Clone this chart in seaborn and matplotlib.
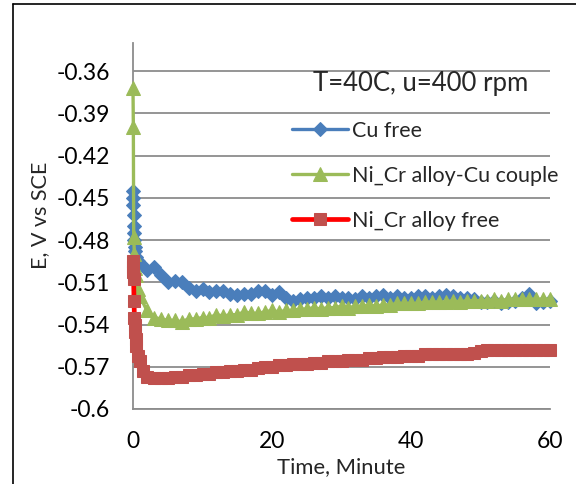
import numpy as np
import pandas as pd
import matplotlib
matplotlib.use("Agg")
import matplotlib.pyplot as plt
from matplotlib.lines import Line2D
import seaborn as sns

# ---------------- data ----------------
minutes = list(range(1, 61))

cu_time = [0, 0.03, 0.06, 0.09, 0.12, 0.15, 0.2, 0.25, 0.35, 0.5, 0.75] + minutes
cu_free = [-0.445, -0.450, -0.455, -0.462, -0.470, -0.475, -0.480, -0.485, -0.488, -0.492, -0.495,
           -0.496, -0.501, -0.499, -0.505, -0.510, -0.509, -0.510, -0.514, -0.516, -0.515,
           -0.517, -0.516, -0.516, -0.518, -0.519, -0.518, -0.518, -0.516, -0.516, -0.519,
           -0.517, -0.521, -0.523, -0.522, -0.521, -0.521, -0.520, -0.521, -0.520, -0.521,
           -0.521, -0.522, -0.520, -0.521, -0.520, -0.519, -0.521, -0.520, -0.521, -0.521,
           -0.520, -0.520, -0.521, -0.520, -0.519, -0.520, -0.521, -0.521, -0.522, -0.524,
           -0.524, -0.523, -0.525, -0.524, -0.523, -0.521, -0.518, -0.525, -0.524, -0.523]

cp_time = [0, 0.05, 0.1, 0.2, 0.35, 0.5, 0.75] + minutes
couple = [-0.372, -0.400, -0.478, -0.490, -0.500, -0.505, -0.515,
          -0.520, -0.530, -0.535, -0.536, -0.537, -0.537, -0.538, -0.536, -0.536, -0.535,
          -0.535, -0.533, -0.534, -0.533, -0.533, -0.531, -0.532, -0.532, -0.531, -0.530,
          -0.531, -0.530, -0.530, -0.529, -0.529, -0.528, -0.529, -0.528, -0.528, -0.527,
          -0.528, -0.527, -0.527, -0.526, -0.527, -0.526, -0.526, -0.525, -0.525, -0.525,
          -0.525, -0.524, -0.524, -0.524, -0.524, -0.523, -0.524, -0.523, -0.523, -0.523,
          -0.523, -0.522, -0.523, -0.522, -0.522, -0.522, -0.522, -0.522, -0.522, -0.522]

ni_time = [0, 0.03, 0.06, 0.09, 0.15, 0.2, 0.25, 0.3, 0.4, 0.5, 0.75, 1.5] + minutes
ni_free = [-0.495, -0.499, -0.503, -0.508, -0.523, -0.535, -0.540, -0.545, -0.550, -0.555, -0.562, -0.573,
           -0.566, -0.577, -0.578, -0.578, -0.578, -0.577, -0.577, -0.576, -0.576, -0.575,
           -0.575, -0.574, -0.574, -0.573, -0.573, -0.572, -0.572, -0.571, -0.570, -0.570,
           -0.569, -0.569, -0.568, -0.568, -0.568, -0.567, -0.567, -0.566, -0.566, -0.566,
           -0.565, -0.565, -0.565, -0.564, -0.564, -0.563, -0.563, -0.563, -0.562, -0.562,
           -0.562, -0.561, -0.561, -0.561, -0.561, -0.561, -0.561, -0.561, -0.560, -0.559,
           -0.558, -0.558, -0.558, -0.558, -0.558, -0.558, -0.558, -0.558, -0.558, -0.558]

labels = ["Cu free", "Ni_Cr alloy-Cu couple", "Ni_Cr alloy free"]
y_ticks = [-0.6, -0.57, -0.54, -0.51, -0.48, -0.45, -0.42, -0.39, -0.36]
y_tick_labels = ["-0.6", "-0.57", "-0.54", "-0.51", "-0.48", "-0.45", "-0.42", "-0.39", "-0.36"]
x_ticks = [0, 20, 40, 60]
annotation = "T=40C, u=400 rpm"

# ---------------- style ----------------
sns.set_theme(style="white")
plt.rcParams['font.family'] = ['Lato', 'DejaVu Sans']

W, H = 576, 484
fig = plt.figure(figsize=(W / 100, H / 100), dpi=100)
ax = fig.add_axes([133 / W, 1 - 409 / H, (550 - 133) / W, (409 - 43) / H])

grid_c = "#8c8c8c"
for yv in y_ticks:
    ax.axhline(yv, color=grid_c, lw=1.3, zorder=0)

blue, green, redm, redl = "#4A7EBB", "#9BBB59", "#C0504D", "#FF0000"

sns.lineplot(x=cu_time, y=cu_free, ax=ax, color=blue, lw=2.4, marker="D",
             markersize=7.6, markeredgecolor=blue, markerfacecolor=blue,
             label=labels[0], sort=False, zorder=3, clip_on=False)
sns.lineplot(x=cp_time, y=couple, ax=ax, color=green, lw=2.4, marker="^",
             markersize=9.5, markeredgecolor=green, markerfacecolor=green,
             label=labels[1], sort=False, zorder=4, clip_on=False)
sns.lineplot(x=ni_time, y=ni_free, ax=ax, color=redl, lw=3.4, marker="s",
             markersize=9, markeredgecolor=redm, markerfacecolor=redm,
             label=labels[2], sort=False, zorder=5, clip_on=False)

ax.set_xlim(0, 60)
ax.set_ylim(-0.6, -0.34)
ax.set_xticks(x_ticks)
ax.set_xticklabels([str(v) for v in x_ticks])
ax.set_yticks(y_ticks)
ax.set_yticklabels(y_tick_labels)
ax.tick_params(axis='both', length=0, labelsize=16.5, colors="#000000")
ax.tick_params(axis='y', pad=16.5)
ax.tick_params(axis='x', pad=16)
ax.grid(False)
for s in ["top", "right"]:
    ax.spines[s].set_visible(False)
for s in ["left", "bottom"]:
    ax.spines[s].set_color(grid_c)
    ax.spines[s].set_linewidth(1.3)
    ax.spines[s].set_zorder(1)

ax.set_xlabel("Time, Minute", fontsize=15.8)
ax.set_ylabel("E, V vs SCE", fontsize=15.5)
ax.xaxis.set_label_coords(0.5, -0.16)
ax.yaxis.set_label_coords((40 - 133) / 417, (409 - 215) / 366)
ax.xaxis.label.set_va("center")
ax.yaxis.label.set_va("center")

ax.text((313 - 133) / 417, (409 - 83) / 366, annotation, transform=ax.transAxes,
        fontsize=18.5, va="center", ha="left")

leg = ax.legend(loc="upper left", bbox_to_anchor=((292 - 133) / 417, (409 - 121) / 366),
                frameon=False, fontsize=15.5, handlelength=2.6, handletextpad=0.2,
                labelspacing=1.15, borderpad=0, borderaxespad=0)

# outer frame (partial, as in reference)
fig.add_artist(Line2D([13 / W, 13 / W], [0, 1 - 4 / H], color="black", lw=1.2, transform=fig.transFigure))
fig.add_artist(Line2D([13 / W, 1], [1 - 4 / H, 1 - 4 / H], color="black", lw=1.2, transform=fig.transFigure))

fig.savefig("out.png", dpi=100)
